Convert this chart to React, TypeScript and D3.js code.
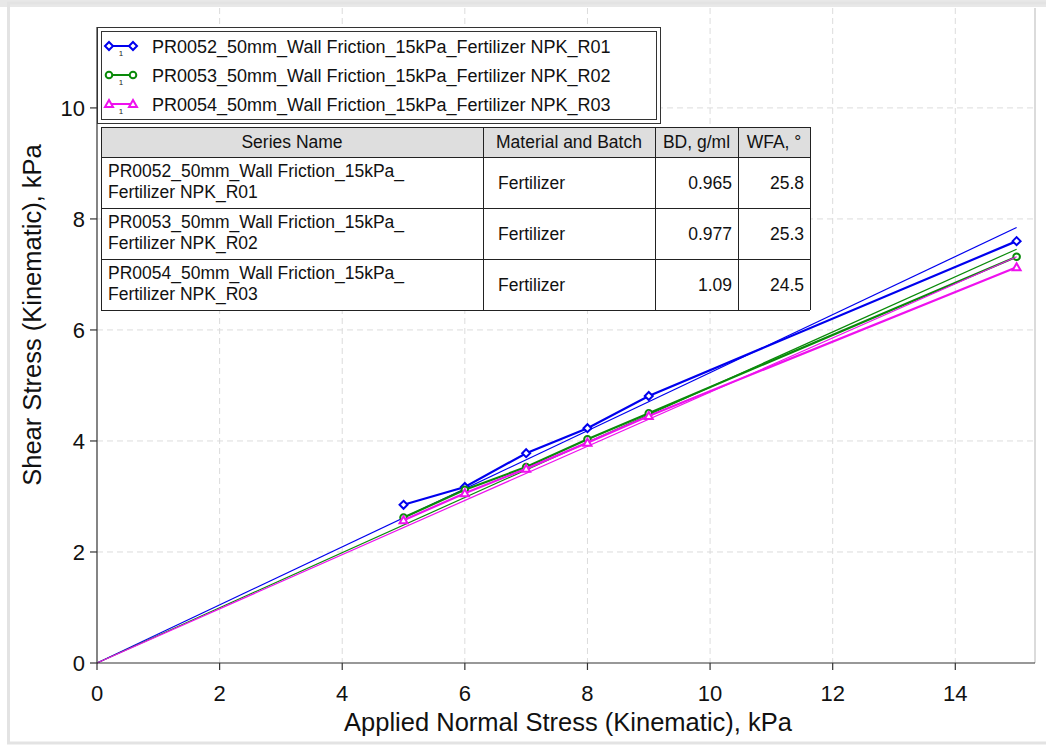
import React from "react";
import * as d3 from "d3";

const xValues = [5, 6, 7, 8, 9, 15];
const seriesNames = [
  "PR0052_50mm_Wall Friction_15kPa_Fertilizer NPK_R01",
  "PR0053_50mm_Wall Friction_15kPa_Fertilizer NPK_R02",
  "PR0054_50mm_Wall Friction_15kPa_Fertilizer NPK_R03",
];
const seriesColors = ["#0000ee", "#0a8a0a", "#ee11ee"];
const seriesMarkers = ["diamond", "circle", "triangle"];
const r01 = [2.85, 3.17, 3.78, 4.23, 4.81, 7.6];
const r02 = [2.62, 3.12, 3.53, 4.03, 4.5, 7.32];
const r03 = [2.57, 3.06, 3.5, 3.97, 4.45, 7.13];
const fitSlopes = [0.523, 0.497, 0.488];
const fitRange = [0, 15];
const xTicks = [0, 2, 4, 6, 8, 10, 12, 14];
const yTicks = [0, 2, 4, 6, 8, 10];
const tableHeader = ["Series Name", "Material and Batch", "BD, g/ml", "WFA, \u00b0"];
const tableNames = [
  ["PR0052_50mm_Wall Friction_15kPa_", "Fertilizer NPK_R01"],
  ["PR0053_50mm_Wall Friction_15kPa_", "Fertilizer NPK_R02"],
  ["PR0054_50mm_Wall Friction_15kPa_", "Fertilizer NPK_R03"],
];
const tableMaterial = ["Fertilizer", "Fertilizer", "Fertilizer"];
const tableBD = ["0.965", "0.977", "1.09"];
const tableWFA = ["25.8", "25.3", "24.5"];

const W = 1046;
const H = 745;
const FONT = "'Liberation Sans', Arial, sans-serif";

function Marker({ type, x, y, color }: { type: string; x: number; y: number; color: string }) {
  if (type === "diamond") {
    const s = 4;
    return (
      <path
        d={`M${x},${y - s}L${x + s},${y}L${x},${y + s}L${x - s},${y}Z`}
        fill="white"
        stroke={color}
        strokeWidth={2}
      />
    );
  }
  if (type === "circle") {
    return <circle cx={x} cy={y} r={3.3} fill="white" stroke={color} strokeWidth={2} />;
  }
  const s = 4;
  return (
    <path
      d={`M${x},${y - s}L${x + s},${y + s * 0.75}L${x - s},${y + s * 0.75}Z`}
      fill="white"
      stroke={color}
      strokeWidth={2}
    />
  );
}

export default function App() {
  const x = d3.scaleLinear().domain([0, 15.3]).range([97, 1035]);
  const y = d3.scaleLinear().domain([0, 11.8]).range([663, 8]);
  const series = [r01, r02, r03];
  const line = d3
    .line<[number, number]>()
    .x((d) => x(d[0]))
    .y((d) => y(d[1]));

  const colX = [101, 483, 655, 738, 810];
  const rowY = [127, 157, 208, 259, 310];

  return (
    <svg
      width={W}
      height={H}
      style={{ position: "absolute", left: 0, top: 0, background: "white" }}
      fontFamily={FONT}
    >
      <rect x={0} y={0} width={W} height={H} fill="white" />
      <rect x={0} y={0} width={W} height={7} fill="#e8e8e8" />
      <rect x={8.5} y={3} width={1040} height={740} fill="none" stroke="#e3e3e3" strokeWidth={3} />
      {/* grid */}
      {xTicks.slice(1).map((t) => (
        <line key={"gx" + t} x1={x(t)} x2={x(t)} y1={y(11.8)} y2={y(0)} stroke="#dcdcdc" strokeWidth={1} strokeDasharray="6,4" />
      ))}
      {yTicks.slice(1).map((t) => (
        <line key={"gy" + t} x1={x(0)} x2={x(15.3)} y1={y(t)} y2={y(t)} stroke="#dcdcdc" strokeWidth={1} strokeDasharray="6,4" />
      ))}
      <line x1={1035} x2={1035} y1={8} y2={663} stroke="#cfcfcf" strokeWidth={1.5} />
      {/* series */}
      {series.map((vals, i) => (
        <g key={"s" + i}>
          <path
            d={line(fitRange.map((v) => [v, v * fitSlopes[i]] as [number, number])) || ""}
            fill="none"
            stroke={seriesColors[i]}
            strokeWidth={1.2}
          />
          <path
            d={line(xValues.map((v, j) => [v, vals[j]] as [number, number])) || ""}
            fill="none"
            stroke={seriesColors[i]}
            strokeWidth={2.2}
          />
          {xValues.map((v, j) => (
            <Marker key={j} type={seriesMarkers[i]} x={x(v)} y={y(vals[j])} color={seriesColors[i]} />
          ))}
        </g>
      ))}
      {/* axes */}
      <line x1={x(0)} x2={1035} y1={663} y2={663} stroke="#333" strokeWidth={1.2} />
      <line x1={97} x2={97} y1={27} y2={663} stroke="#333" strokeWidth={1.2} />
      {xTicks.map((t) => (
        <g key={"xt" + t}>
          <line x1={x(t)} x2={x(t)} y1={663} y2={670} stroke="#333" strokeWidth={1.2} />
          <text x={x(t)} y={701} textAnchor="middle" fontSize={22} fill="#111">
            {t}
          </text>
        </g>
      ))}
      {yTicks.map((t) => (
        <g key={"yt" + t}>
          <line x1={90} x2={97} y1={y(t)} y2={y(t)} stroke="#333" strokeWidth={1.2} />
          <text x={85} y={y(t) + 8} textAnchor="end" fontSize={22} fill="#111">
            {t}
          </text>
        </g>
      ))}
      <text x={568} y={731} textAnchor="middle" fontSize={25.5} fill="#111">
        Applied Normal Stress (Kinematic), kPa
      </text>
      <text
        transform={`translate(41,315) rotate(-90)`}
        textAnchor="middle"
        fontSize={25.5}
        fill="#111"
      >
        Shear Stress (Kinematic), kPa
      </text>
      {/* legend */}
      <rect x={97.5} y={27.5} width={563} height={96} fill="white" stroke="#333" strokeWidth={1} />
      <rect x={101.5} y={31.5} width={555} height={88} fill="white" stroke="#333" strokeWidth={1} />
      {seriesNames.map((n, i) => {
        const cy = 46 + i * 29;
        return (
          <g key={"lg" + i}>
            <line x1={109} x2={133} y1={cy} y2={cy} stroke={seriesColors[i]} strokeWidth={2} />
            <Marker type={seriesMarkers[i]} x={109} y={cy} color={seriesColors[i]} />
            <Marker type={seriesMarkers[i]} x={133} y={cy} color={seriesColors[i]} />
            <text x={121} y={cy + 10} textAnchor="middle" fontSize={8} fill="#222">
              1
            </text>
            <text x={152} y={cy + 6.5} fontSize={18} fill="#111">
              {n}
            </text>
          </g>
        );
      })}
      {/* table */}
      <rect x={colX[0]} y={rowY[0]} width={colX[4] - colX[0]} height={rowY[1] - rowY[0]} fill="#dedede" />
      <rect x={colX[0]} y={rowY[1]} width={colX[4] - colX[0]} height={rowY[4] - rowY[1]} fill="white" />
      {rowY.map((ry, i) => (
        <line key={"tr" + i} x1={colX[0]} x2={colX[4]} y1={ry + 0.5} y2={ry + 0.5} stroke="#222" strokeWidth={1} />
      ))}
      {colX.map((cx, i) => (
        <line key={"tc" + i} x1={cx + 0.5} x2={cx + 0.5} y1={rowY[0]} y2={rowY[4]} stroke="#222" strokeWidth={1} />
      ))}
      {tableHeader.map((h, i) => (
        <text key={"th" + i} x={(colX[i] + colX[i + 1]) / 2} y={148} textAnchor="middle" fontSize={17.5} fill="#111">
          {h}
        </text>
      ))}
      {tableNames.map((nm, i) => {
        const top = rowY[i + 1];
        const mid = (top + rowY[i + 2]) / 2;
        return (
          <g key={"row" + i}>
            <text x={108} y={top + 20} fontSize={17.5} fill="#111">
              {nm[0]}
            </text>
            <text x={108} y={top + 41} fontSize={17.5} fill="#111">
              {nm[1]}
            </text>
            <text x={498} y={mid + 6} fontSize={17.5} fill="#111">
              {tableMaterial[i]}
            </text>
            <text x={732} y={mid + 6} textAnchor="end" fontSize={17.5} fill="#111">
              {tableBD[i]}
            </text>
            <text x={804} y={mid + 6} textAnchor="end" fontSize={17.5} fill="#111">
              {tableWFA[i]}
            </text>
          </g>
        );
      })}
    </svg>
  );
}
